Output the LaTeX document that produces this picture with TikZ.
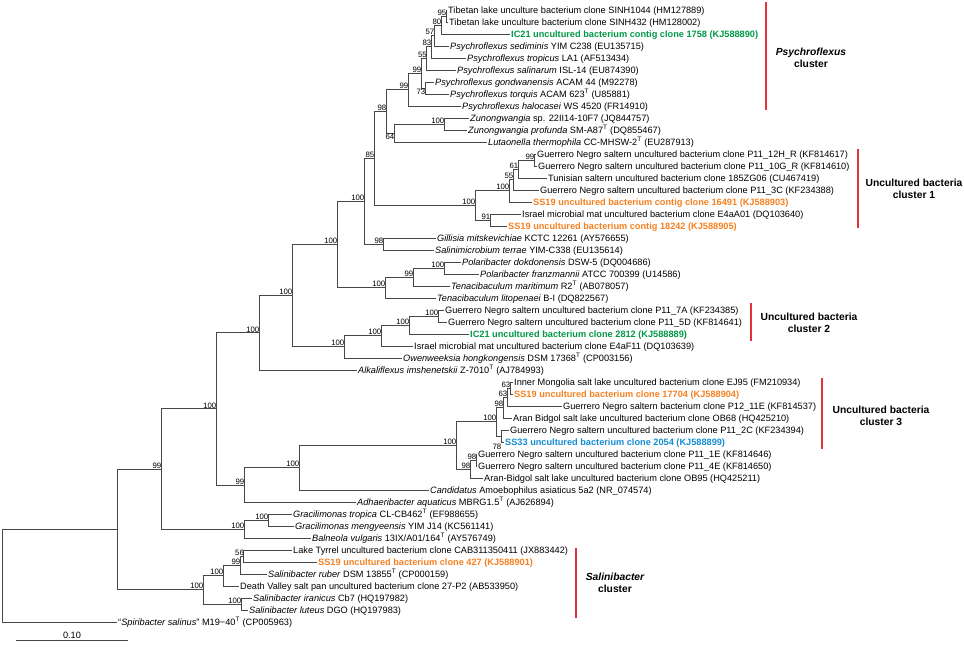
\documentclass[tikz,border=0pt]{standalone}
\usepackage{fontspec}
\setmainfont{Liberation Sans}
\definecolor{cgreen}{RGB}{0,152,70}
\definecolor{corange}{RGB}{244,128,32}
\definecolor{cblue}{RGB}{20,140,210}
\definecolor{cred}{RGB}{228,50,60}
\newcommand\supT{\textsuperscript{T}}
\tikzset{
 br/.style={draw=black!72, line width=0.75pt},
 leafn/.style={anchor=west, inner xsep=1.5pt, inner ysep=0pt, text height=6.6pt, text depth=0pt, font=\fontsize{9.2}{11}\selectfont},
 hlg/.style={text=cgreen, font=\fontsize{9.2}{11}\selectfont\bfseries},
 hlo/.style={text=corange, font=\fontsize{9.2}{11}\selectfont\bfseries},
 hlb/.style={text=cblue, font=\fontsize{9.2}{11}\selectfont\bfseries},
 boot/.style={anchor=base east, inner sep=0pt, xshift=0.5pt, yshift=0.8pt, font=\fontsize{7.8}{9}\selectfont},
 bootb/.style={anchor=north east, inner sep=0pt, xshift=0.5pt, yshift=-0.8pt, font=\fontsize{7.8}{9}\selectfont},
 bar/.style={draw=cred, line width=1.4pt},
 clab/.style={align=center, inner sep=0pt, font=\fontsize{10.3}{12}\selectfont\bfseries},
}
\newcommand\leaf[5][]{\node[leafn,#1] (L#2) at ({#3-1.5},{10+12*(#2-1)}) {#4}; \draw[br] (#5) |- (L#2.west);}
\newcommand\edge[2]{\draw[br] (#1) |- (#2);}
\newcommand\bsl[2]{\node[boot] (b#1) at (#1) {#2};}
\newcommand\bslb[2]{\node[bootb] (b#1) at (#1) {#2};}
\begin{document}
\begin{tikzpicture}[x=1pt,y=-1pt]
\useasboundingbox (0,0) rectangle (964,650);
% internal nodes
\coordinate (a95) at (446,16);
\coordinate (a80) at (441,25);
\coordinate (a57) at (434,35.5);
\coordinate (a83) at (431,46.75);
\coordinate (a55) at (426.5,58.4);
\coordinate (a73) at (425,88);
\coordinate (a99a) at (421,73.2);
\coordinate (a99b) at (408,89.6);
\coordinate (z100) at (444,124);
\coordinate (a64) at (394,133);
\coordinate (a98) at (386,111.3);
\coordinate (a85) at (374,158.35);
\coordinate (c99) at (534,160);
\coordinate (c61) at (518,169);
\coordinate (c55) at (513,179.5);
\coordinate (c100a) at (509,190.75);
\coordinate (c91) at (490,220);
\coordinate (c100b) at (475,205.4);
\coordinate (d98) at (383,244);
\coordinate (d100) at (364,201.2);
\coordinate (p100) at (444,268);
\coordinate (p99) at (413,277);
\coordinate (p100b) at (385,287.5);
\coordinate (e100) at (337,244.4);
\coordinate (f100a) at (438,316);
\coordinate (f100b) at (409,325);
\coordinate (f100c) at (381,335.5);
\coordinate (f100d) at (344,346.75);
\coordinate (g100) at (292,295.6);
\coordinate (g100b) at (259,332.8);
\coordinate (h63a) at (510,388);
\coordinate (h63b) at (507,397);
\coordinate (h98) at (503,407.5);
\coordinate (h78) at (501,436);
\coordinate (h100a) at (496,421.75);
\coordinate (h98b) at (476,460);
\coordinate (h98c) at (470,469);
\coordinate (h100b) at (456,445.4);
\coordinate (i100) at (299,467.7);
\coordinate (i99) at (244,484.9);
\coordinate (j100) at (216,408.8);
\coordinate (k100a) at (268,520);
\coordinate (k100b) at (244,529);
\coordinate (m99) at (161,468.9);
\coordinate (s56) at (243.6,556);
\coordinate (s99) at (240,565);
\coordinate (s100a) at (223,575.5);
\coordinate (s100b) at (241,604);
\coordinate (s100) at (203,589.75);
\coordinate (r99) at (117,529.3);
\coordinate (root) at (2,575.6);
% internal edges
\edge{root}{r99}
\edge{r99}{m99} \edge{r99}{s100}
\edge{m99}{j100} \edge{m99}{k100b}
\edge{j100}{g100b} \edge{j100}{i99}
\edge{g100b}{g100}
\edge{g100}{e100} \edge{g100}{f100d}
\edge{e100}{d100} \edge{e100}{p100b}
\edge{d100}{a85} \edge{d100}{d98}
\edge{a85}{a98} \edge{a85}{c100b}
\edge{a98}{a99b} \edge{a98}{a64}
\edge{a99b}{a99a}
\edge{a99a}{a55} \edge{a99a}{a73}
\edge{a55}{a83} \edge{a83}{a57} \edge{a57}{a80} \edge{a80}{a95}
\edge{a64}{z100}
\edge{c100b}{c100a} \edge{c100b}{c91}
\edge{c100a}{c55} \edge{c55}{c61} \edge{c61}{c99}
\edge{p100b}{p99} \edge{p99}{p100}
\edge{f100d}{f100c} \edge{f100c}{f100b} \edge{f100b}{f100a}
\edge{i99}{i100} \edge{i100}{h100b}
\edge{h100b}{h100a} \edge{h100b}{h98c}
\edge{h100a}{h98} \edge{h100a}{h78}
\edge{h98}{h63b} \edge{h63b}{h63a}
\edge{h98c}{h98b}
\edge{k100b}{k100a}
\edge{s100}{s100a} \edge{s100}{s100b}
\edge{s100a}{s99} \edge{s99}{s56}
% leaves
\leaf{1}{448}{Tibetan lake unculture bacterium clone SINH1044 (HM127889)}{a95}
\leaf{2}{449}{Tibetan lake unculture bacterium clone SINH432 (HM128002)}{a95}
\leaf[hlg]{3}{511}{IC21 uncultured bacterium contig clone 1758 (KJ588890)}{a80}
\leaf{4}{450}{\textit{Psychroflexus sediminis} YIM C238 (EU135715)}{a57}
\leaf{5}{467}{\textit{Psychroflexus tropicus} LA1 (AF513434)}{a83}
\leaf{6}{457}{\textit{Psychroflexus salinarum} ISL-14 (EU874390)}{a55}
\leaf{7}{435}{\textit{Psychroflexus gondwanensis} ACAM 44 (M92278)}{a73}
\leaf{8}{450}{\textit{Psychroflexus torquis} ACAM 623\supT{} (U85881)}{a73}
\leaf{9}{462}{\textit{Psychroflexus halocasei} WS 4520 (FR14910)}{a99b}
\leaf{10}{470}{\textit{Zunongwangia} sp. 22II14-10F7 (JQ844757)}{z100}
\leaf{11}{468}{\textit{Zunongwangia profunda} SM-A87\supT{} (DQ855467)}{z100}
\leaf{12}{488}{\textit{Lutaonella thermophila} CC-MHSW-2\supT{} (EU287913)}{a64}
\leaf{13}{537}{Guerrero Negro saltern uncultured bacterium clone P11\_12H\_R (KF814617)}{c99}
\leaf{14}{538}{Guerrero Negro saltern uncultured bacterium clone P11\_10G\_R (KF814610)}{c99}
\leaf{15}{548}{Tunisian saltern uncultured bacterium clone 185ZG06 (CU467419)}{c61}
\leaf{16}{540}{Guerrero Negro saltern uncultured bacterium clone P11\_3C (KF234388)}{c55}
\leaf[hlo]{17}{533}{SS19 uncultured bacterium contig clone 16491 (KJ588903)}{c100a}
\leaf{18}{522}{Israel microbial mat uncultured bacterium clone E4aA01 (DQ103640)}{c91}
\leaf[hlo]{19}{508}{SS19 uncultured bacterium contig 18242 (KJ588905)}{c91}
\leaf{20}{437}{\textit{Gillisia mitskevichiae} KCTC 12261 (AY576655)}{d98}
\leaf{21}{435}{\textit{Salinimicrobium terrae} YIM-C338 (EU135614)}{d98}
\leaf{22}{462}{\textit{Polaribacter dokdonensis} DSW-5 (DQ004686)}{p100}
\leaf{23}{480}{\textit{Polaribacter franzmannii} ATCC 700399 (U14586)}{p100}
\leaf{24}{451}{\textit{Tenacibaculum maritimum} R2\supT{} (AB078057)}{p99}
\leaf{25}{437}{\textit{Tenacibaculum litopenaei} B-I (DQ822567)}{p100b}
\leaf{26}{445}{Guerrero Negro saltern uncultured bacterium clone P11\_7A (KF234385)}{f100a}
\leaf{27}{448}{Guerrero Negro saltern uncultured bacterium clone P11\_5D (KF814641)}{f100a}
\leaf[hlg]{28}{470}{IC21 uncultured bacterium clone 2812 (KJ588889)}{f100b}
\leaf{29}{414}{Israel microbial mat uncultured bacterium clone E4aF11 (DQ103639)}{f100c}
\leaf{30}{403}{\textit{Owenweeksia hongkongensis} DSM 17368\supT{} (CP003156)}{f100d}
\leaf{31}{358}{\textit{Alkaliflexus imshenetskii} Z-7010\supT{} (AJ784993)}{g100b}
\leaf{32}{514}{Inner Mongolia salt lake uncultured bacterium clone EJ95 (FM210934)}{h63a}
\leaf[hlo]{33}{514}{SS19 uncultured bacterium clone 17704 (KJ588904)}{h63a}
\leaf{34}{563}{Guerrero Negro saltern bacterium clone P12\_11E (KF814537)}{h63b}
\leaf{35}{513}{Aran Bidgol salt lake uncultured bacterium clone OB68 (HQ425210)}{h98}
\leaf{36}{510}{Guerrero Negro saltern uncultured bacterium clone P11\_2C (KF234394)}{h78}
\leaf[hlb]{37}{505}{SS33 uncultured bacterium clone 2054 (KJ588899)}{h78}
\leaf{38}{478}{Guerrero Negro saltern uncultured bacterium clone P11\_1E (KF814646)}{h98b}
\leaf{39}{478}{Guerrero Negro saltern uncultured bacterium clone P11\_4E (KF814650)}{h98b}
\leaf{40}{484}{Aran-Bidgol salt lake uncultured bacterium clone OB95 (HQ425211)}{h98c}
\leaf{41}{430}{\textit{Candidatus} Amoebophilus asiaticus 5a2 (NR\_074574)}{i100}
\leaf{42}{357}{\textit{Adhaeribacter aquaticus} MBRG1.5\supT{} (AJ626894)}{i99}
\leaf{43}{293}{\textit{Gracilimonas tropica} CL-CB462\supT{} (EF988655)}{k100a}
\leaf{44}{295}{\textit{Gracilimonas mengyeensis} YIM J14 (KC561141)}{k100a}
\leaf{45}{312}{\textit{Balneola vulgaris} 13IX/A01/164\supT{} (AY576749)}{k100b}
\leaf{46}{293}{Lake Tyrrel uncultured bacterium clone CAB311350411 (JX883442)}{s56}
\leaf[hlo]{47}{318}{SS19 uncultured bacterium clone 427 (KJ588901)}{s56}
\leaf{48}{268}{\textit{Salinibacter ruber} DSM 13855\supT{} (CP000159)}{s99}
\leaf{49}{240}{Death Valley salt pan uncultured bacterium clone 27-P2 (AB533950)}{s100a}
\leaf{50}{253}{\textit{Salinibacter iranicus} Cb7 (HQ197982)}{s100b}
\leaf{51}{249}{\textit{Salinibacter luteus} DGO (HQ197983)}{s100b}
\leaf{52}{118}{“\textit{Spiribacter salinus}” M19−40\supT{} (CP005963)}{root}
% bootstrap values
\bsl{a95}{95} \bsl{a80}{80} \bsl{a57}{57} \bsl{a83}{83} \bsl{a55}{55}
\bslb{a73}{73} \bsl{a99a}{99} \bsl{a99b}{99} \bsl{z100}{100} \bslb{a64}{64}
\bsl{a98}{98} \bsl{a85}{85}
\bsl{c99}{99} \bsl{c61}{61} \bsl{c55}{55} \bsl{c100a}{100} \bsl{c91}{91} \bsl{c100b}{100}
\bsl{d98}{98} \bsl{d100}{100}
\bsl{p100}{100} \bsl{p99}{99} \bsl{p100b}{100} \bsl{e100}{100}
\bsl{f100a}{100} \bsl{f100b}{100} \bsl{f100c}{100} \bsl{f100d}{100}
\bsl{g100}{100} \bsl{g100b}{100}
\bsl{h63a}{63} \bsl{h63b}{63} \bsl{h98}{98}
\node[bootb, yshift=-7pt] (bh78) at (h78) {78};
\bsl{h100a}{100} \bsl{h98b}{98} \bsl{h98c}{98} \bsl{h100b}{100}
\bsl{i100}{100} \bsl{i99}{99} \bsl{j100}{100}
\bsl{k100a}{100} \bsl{k100b}{100} \bsl{m99}{99}
\bsl{s56}{56} \bsl{s99}{99} \bsl{s100a}{100} \bsl{s100b}{100} \bsl{s100}{100}
% cluster bars and labels
\coordinate (pb1) at (766,2); \coordinate (pb2) at (766,110);
\draw[bar] (pb1) -- (pb2);
\node[clab] (pl) at (811,57.5) {\itshape Psychroflexus\\cluster};
\coordinate (u1a) at (858,149); \coordinate (u1b) at (858,228);
\draw[bar] (u1a) -- (u1b);
\node[clab] (ul1) at (914,189) {Uncultured bacteria\\cluster 1};
\coordinate (u2a) at (751,303); \coordinate (u2b) at (751,341);
\draw[bar] (u2a) -- (u2b);
\node[clab] (ul2) at (809,322.5) {Uncultured bacteria\\cluster 2};
\coordinate (u3a) at (822,378); \coordinate (u3b) at (822,449);
\draw[bar] (u3a) -- (u3b);
\node[clab] (ul3) at (881,416) {Uncultured bacteria\\cluster 3};
\coordinate (sa) at (576,548); \coordinate (sb) at (576,618);
\draw[bar] (sa) -- (sb);
\node[clab] (sl) at (615,582.5) {\itshape Salinibacter\\cluster};
% scale bar
\coordinate (sc1) at (16,640); \coordinate (sc2) at (128,640);
\draw[br] (sc1) -- (sc2);
\node[anchor=base, inner sep=0pt, font=\fontsize{9.2}{11}\selectfont] (sct) at (72,638.5) {0.10};
\end{tikzpicture}
\end{document}
